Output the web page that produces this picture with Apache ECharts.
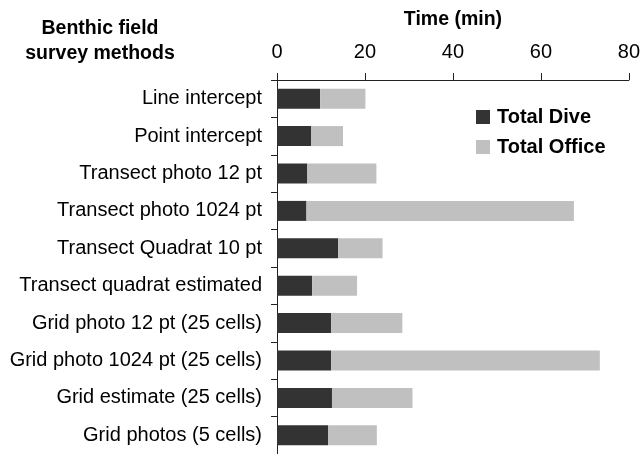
<!DOCTYPE html>
<html>
<head>
<meta charset="utf-8">
<script src="https://cdn.jsdelivr.net/npm/echarts@6/dist/echarts.min.js"></script>
<style>
  html, body { margin: 0; padding: 0; background: #fff; }
  #chart { width: 643px; height: 454px; }
</style>
</head>
<body>
<div id="chart"></div>
<script>
// Survey methods, listed top to bottom
var methods = [
  'Line intercept',
  'Point intercept',
  'Transect photo 12 pt',
  'Transect photo 1024 pt',
  'Transect Quadrat 10 pt',
  'Transect quadrat estimated',
  'Grid photo 12 pt (25 cells)',
  'Grid photo 1024 pt (25 cells)',
  'Grid estimate (25 cells)',
  'Grid photos (5 cells)'
];
// Minutes spent underwater
var totalDive = [9.8, 7.8, 6.9, 6.7, 13.9, 8.0, 12.3, 12.3, 12.5, 11.6];
// Minutes spent in the office processing
var totalOffice = [10.3, 7.2, 15.7, 60.8, 10.1, 10.2, 16.2, 61.1, 18.3, 11.1];
// Time axis ticks
var timeTicks = [0, 20, 40, 60, 80];

var FONT = '"Liberation Sans", Arial, Helvetica, sans-serif';
var chart = echarts.init(document.getElementById('chart'), null, { renderer: 'canvas' });

chart.setOption({
  animation: false,
  backgroundColor: '#ffffff',
  textStyle: { fontFamily: FONT, color: '#000' },
  title: {
    text: 'Benthic field\nsurvey methods',
    left: 100,
    top: 16,
    padding: 0,
    textAlign: 'center',
    textStyle: { fontFamily: FONT, fontSize: 19.5, fontWeight: 'bold', color: '#000', lineHeight: 25 }
  },
  legend: {
    orient: 'vertical',
    left: 476,
    top: 107,
    padding: 0,
    itemWidth: 14,
    itemHeight: 14,
    itemGap: 10,
    icon: 'rect',
    textStyle: { fontFamily: FONT, fontSize: 20, fontWeight: 'bold', color: '#000', padding: [0, 0, 0, 2] },
    data: ['Total Dive', 'Total Office']
  },
  grid: { left: 277, right: 11, top: 80, bottom: -1, containLabel: false },
  xAxis: {
    type: 'value',
    position: 'top',
    min: timeTicks[0],
    max: timeTicks[timeTicks.length - 1],
    interval: timeTicks[1] - timeTicks[0],
    name: 'Time (min)',
    nameLocation: 'middle',
    nameGap: 50,
    nameTextStyle: { fontFamily: FONT, fontSize: 19.5, fontWeight: 'bold', color: '#000' },
    axisLine: { show: true, lineStyle: { color: '#222', width: 1 } },
    axisTick: { show: true, length: 7, lineStyle: { color: '#222' } },
    axisLabel: { margin: 17.5, fontFamily: FONT, fontSize: 20, color: '#000' },
    splitLine: { show: false }
  },
  yAxis: {
    type: 'category',
    inverse: true,
    data: methods,
    axisLine: { show: true, lineStyle: { color: '#222', width: 1 } },
    axisTick: { show: true, length: 6, alignWithLabel: false, lineStyle: { color: '#222' } },
    axisLabel: { margin: 15, fontFamily: FONT, fontSize: 20, color: '#000' }
  },
  series: [
    {
      name: 'Total Dive',
      type: 'bar',
      stack: 'time',
      barWidth: 20,
      itemStyle: { color: '#333333' },
      data: totalDive
    },
    {
      name: 'Total Office',
      type: 'bar',
      stack: 'time',
      barWidth: 20,
      itemStyle: { color: '#c0c0c0' },
      data: totalOffice
    }
  ]
});
</script>
</body>
</html>
